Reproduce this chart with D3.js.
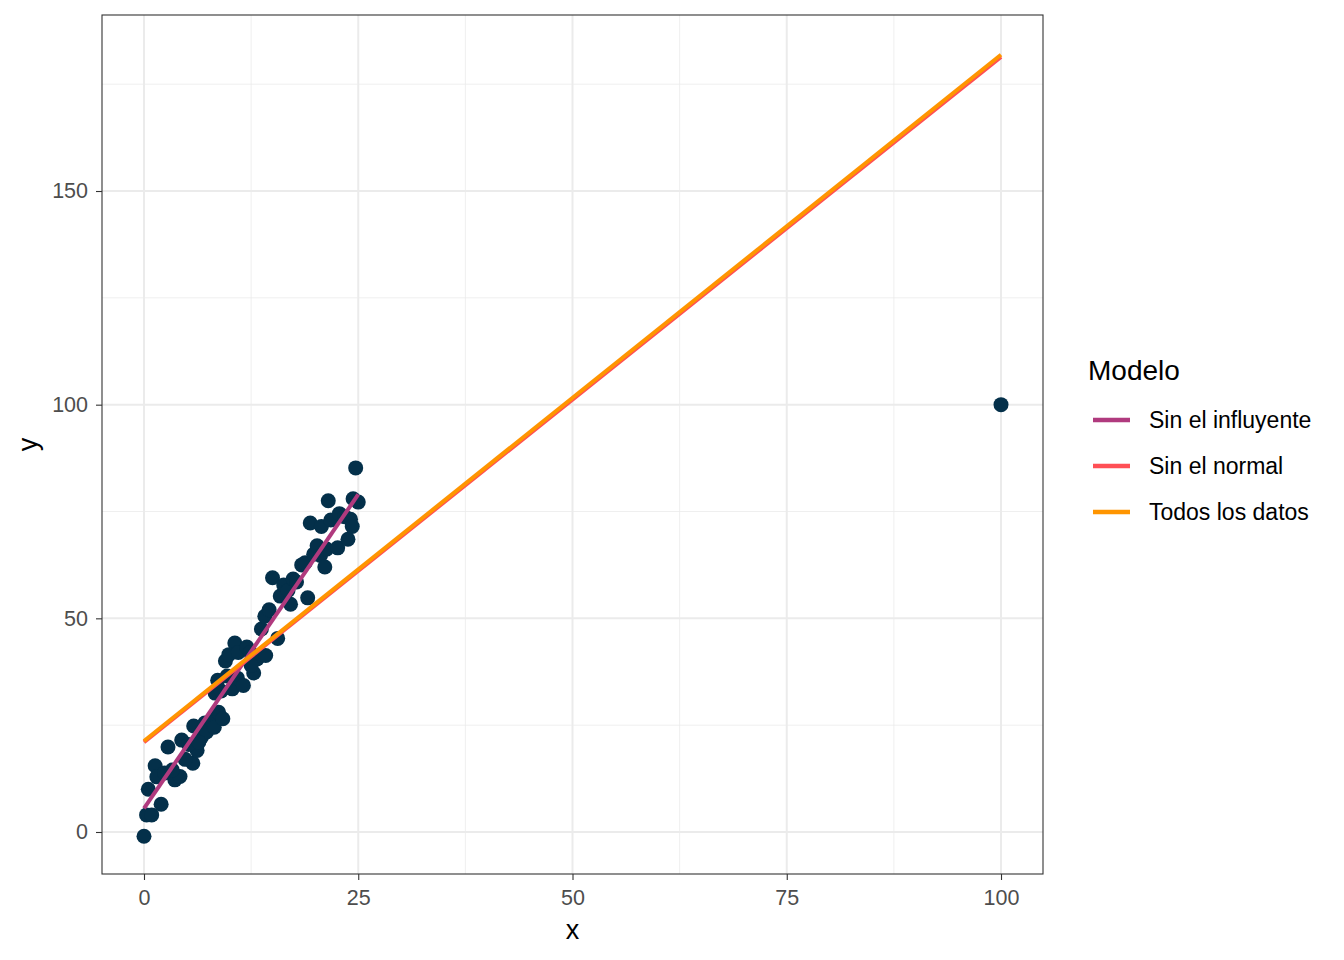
<!DOCTYPE html>
<html lang="en">
<head>
<meta charset="utf-8">
<script src="https://d3js.org/d3.v7.min.js"></script>
<style>
  body { margin: 0; background: #fff; }
  text { font-family: "Liberation Sans", Arial, sans-serif; }
</style>
</head>
<body>
<div id="chart"></div>
<script>
  const pointsX = [0, 0.3, 0.9, 2.0, 0.5, 1.3, 1.5, 2.4, 2.8, 3.6, 4.2, 4.4, 5.7, 6.2, 6.7,
    3.3, 4.8, 5.8, 7.1, 7.3, 7.9, 8.2, 8.7, 9.2, 8.6, 8.3, 9.5, 9.9, 10.3, 10.6,
    10.9, 11.0, 11.6, 12.0, 12.4, 12.8, 13.2, 13.7, 14.1, 14.2, 14.6, 15.0, 15.6, 15.9,
    16.3, 16.8, 17.1, 17.4, 17.8, 18.4, 18.8, 19.1, 19.4, 19.8, 20.2, 20.7, 20.6, 21.1,
    21.3, 21.5, 21.8, 22.6, 22.8, 23.4, 23.8, 24.1, 24.3, 24.4, 24.7, 25.0,
    5.2, 6.4, 9.0, 12.5, 9.7, 100];
  const pointsY = [-1.0, 4.0, 4.0, 6.5, 10.0, 15.5, 12.9, 13.8, 19.9, 12.2, 13.0, 21.5, 16.1, 19.1, 22.2,
    14.5, 17.0, 24.8, 25.5, 23.4, 26.2, 24.5, 28.0, 26.5, 35.5, 32.5, 40.0, 41.5, 33.5, 44.2,
    36.0, 42.0, 34.3, 43.3, 42.0, 37.2, 40.5, 47.5, 50.5, 41.3, 52.0, 59.5, 45.3, 55.2,
    57.8, 56.5, 53.3, 59.2, 58.5, 62.5, 63.0, 54.8, 72.3, 65.0, 67.0, 71.5, 64.7, 62.0,
    66.2, 77.5, 73.0, 66.5, 74.5, 73.8, 68.5, 73.2, 71.5, 78.0, 85.2, 77.2,
    20.5, 21.0, 33.0, 39.0, 36.5, 100];

  // fitted lines per model: x range and fitted y at both ends
  const models = ["Sin el influyente", "Sin el normal", "Todos los datos"];
  const modelColors = ["#B03A7E", "#FF4F55", "#FF9500"];
  const fitX0 = [0, 0, 0];
  const fitX1 = [25, 100, 100];
  const fitY0 = [5.5, 21.0, 21.3];
  const fitY1 = [79.0, 181.4, 181.9];

  const xTicks = [0, 25, 50, 75, 100];
  const xMinor = [12.5, 37.5, 62.5, 87.5];
  const yTicks = [0, 50, 100, 150];
  const yMinor = [25, 75, 125, 175];

  const svgWidth = 1344, svgHeight = 960;
  const panel = {left: 102, right: 1043, top: 15, bottom: 874};

  const svg = d3.select("#chart").append("svg")
    .attr("width", svgWidth)
    .attr("height", svgHeight);

  const x = d3.scaleLinear().domain([-4.9, 104.9]).range([panel.left, panel.right]);
  const y = d3.scaleLinear().domain([-9.83, 191.19]).range([panel.bottom, panel.top]);

  const grid = svg.append("g");
  // minor grid
  grid.selectAll(".vmin").data(xMinor).enter().append("line")
    .attr("x1", d => x(d)).attr("x2", d => x(d))
    .attr("y1", panel.top).attr("y2", panel.bottom)
    .attr("stroke", "#EBEBEB").attr("stroke-width", 0.8);
  grid.selectAll(".hmin").data(yMinor).enter().append("line")
    .attr("y1", d => y(d)).attr("y2", d => y(d))
    .attr("x1", panel.left).attr("x2", panel.right)
    .attr("stroke", "#EBEBEB").attr("stroke-width", 0.8);
  // major grid
  grid.selectAll(".vmaj").data(xTicks).enter().append("line")
    .attr("x1", d => x(d)).attr("x2", d => x(d))
    .attr("y1", panel.top).attr("y2", panel.bottom)
    .attr("stroke", "#EBEBEB").attr("stroke-width", 2);
  grid.selectAll(".hmaj").data(yTicks).enter().append("line")
    .attr("y1", d => y(d)).attr("y2", d => y(d))
    .attr("x1", panel.left).attr("x2", panel.right)
    .attr("stroke", "#EBEBEB").attr("stroke-width", 2);

  // points
  const points = pointsX.map((d, i) => ({x: d, y: pointsY[i]}));
  svg.append("g").selectAll("circle").data(points).enter().append("circle")
    .attr("cx", d => x(d.x))
    .attr("cy", d => y(d.y))
    .attr("r", 7.5)
    .attr("fill", "#04304A");

  // fitted lines
  const fits = models.map((m, i) => ({
    name: m, color: modelColors[i],
    pts: [[fitX0[i], fitY0[i]], [fitX1[i], fitY1[i]]]
  }));
  const line = d3.line().x(d => x(d[0])).y(d => y(d[1]));
  svg.append("g").selectAll("path").data(fits).enter().append("path")
    .attr("d", d => line(d.pts))
    .attr("fill", "none")
    .attr("stroke", d => d.color)
    .attr("stroke-width", 4);

  // panel border
  svg.append("rect")
    .attr("x", panel.left).attr("y", panel.top)
    .attr("width", panel.right - panel.left).attr("height", panel.bottom - panel.top)
    .attr("fill", "none").attr("stroke", "#333333").attr("stroke-width", 1.1);

  // axes
  const xAxis = svg.append("g")
    .attr("transform", "translate(0," + panel.bottom + ")")
    .call(d3.axisBottom(x).tickValues(xTicks).tickSize(6).tickPadding(10));
  const yAxis = svg.append("g")
    .attr("transform", "translate(" + panel.left + ",0)")
    .call(d3.axisLeft(y).tickValues(yTicks).tickSize(6).tickPadding(8));
  [xAxis, yAxis].forEach(a => {
    a.select(".domain").remove();
    a.selectAll(".tick line").attr("stroke", "#333333").attr("stroke-width", 1.1);
    a.selectAll(".tick text")
      .attr("fill", "#4D4D4D")
      .style("font-size", "21.5px")
      .style("font-family", "'Liberation Sans', Arial, sans-serif");
  });

  // axis titles
  svg.append("text")
    .attr("x", (panel.left + panel.right) / 2).attr("y", 939)
    .attr("text-anchor", "middle")
    .style("font-size", "27px")
    .text("x");
  svg.append("text")
    .attr("transform", "translate(37," + ((panel.top + panel.bottom) / 2) + ") rotate(-90)")
    .attr("text-anchor", "middle")
    .style("font-size", "27px")
    .text("y");

  // legend
  const legend = svg.append("g").attr("transform", "translate(1088,0)");
  legend.append("text")
    .attr("x", 0).attr("y", 380)
    .style("font-size", "28px")
    .text("Modelo");
  const items = legend.selectAll(".item").data(fits).enter().append("g")
    .attr("transform", (d, i) => "translate(0," + (420 + i * 46) + ")");
  items.append("line")
    .attr("x1", 5).attr("x2", 42)
    .attr("stroke", d => d.color).attr("stroke-width", 4.5);
  items.append("text")
    .attr("x", 61).attr("dy", "0.36em")
    .style("font-size", "23px")
    .text(d => d.name);
</script>
</body>
</html>
